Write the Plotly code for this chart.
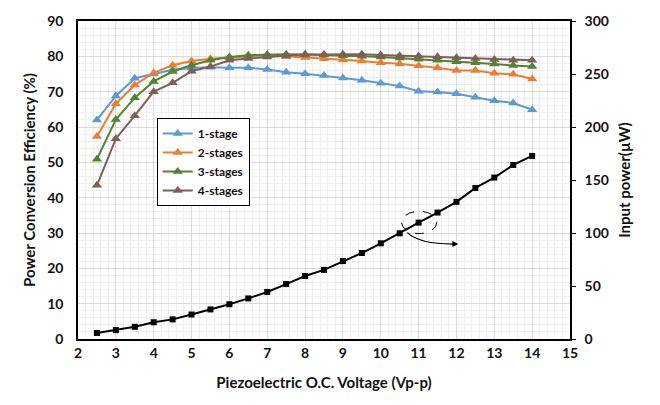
import plotly.graph_objects as go

voltage = [2.5, 3, 3.5, 4, 4.5, 5, 5.5, 6, 6.5, 7, 7.5, 8, 8.5, 9,
           9.5, 10, 10.5, 11, 11.5, 12, 12.5, 13, 13.5, 14]

eff_1stage = [62.0, 68.8, 73.8, 75.0, 76.2, 76.7, 76.9, 76.8, 76.8, 76.3, 75.5, 75.1, 74.6, 73.9,
              73.2, 72.4, 71.6, 70.1, 69.9, 69.4, 68.4, 67.4, 66.8, 64.9]
eff_2stages = [57.3, 66.6, 71.9, 75.3, 77.5, 78.7, 79.3, 79.7, 80.0, 80.3, 80.0, 79.7, 79.3, 79.0,
               78.7, 78.2, 77.9, 77.3, 76.8, 76.0, 76.0, 75.2, 74.9, 73.6]
eff_3stages = [50.9, 62.1, 68.3, 72.9, 75.7, 77.5, 78.9, 79.8, 80.3, 80.5, 80.6, 80.5, 80.4, 80.2,
               80.0, 79.8, 79.5, 79.2, 78.9, 78.5, 78.2, 77.8, 77.4, 77.1]
eff_4stages = [43.5, 56.7, 63.2, 70.0, 72.5, 75.8, 77.1, 78.9, 79.4, 79.8, 80.0, 80.5, 80.5, 80.6,
               80.6, 80.4, 80.2, 80.1, 79.9, 79.6, 79.4, 79.1, 78.9, 78.9]
input_power = [5.7, 8.4, 11.5, 15.8, 18.5, 23.1, 27.9, 32.8, 38.3, 44.4, 51.8, 59.4, 65.2, 73.5,
               81.1, 90.3, 99.7, 109.8, 119.3, 129.4, 142.5, 152.3, 164.2, 172.7]

series_names = ["1-stage", "2-stages", "3-stages", "4-stages"]
series_colors = ["#5b9bd5", "#ed7d31", "#548235", "#7f5f55"]

FONT = "Lato"

fig = go.Figure()
for name, vals, col in zip(series_names, [eff_1stage, eff_2stages, eff_3stages, eff_4stages], series_colors):
    fig.add_trace(go.Scatter(
        x=voltage, y=vals, name=name, mode="lines+markers",
        line=dict(color=col, width=2),
        marker=dict(symbol="triangle-up", size=9, color=col),
    ))

fig.add_trace(go.Scatter(
    x=voltage, y=input_power, yaxis="y2", mode="lines+markers", showlegend=False,
    line=dict(color="black", width=2),
    marker=dict(symbol="square", size=6, color="black"),
))

# annotation: dashed ellipse and curved arrow
fig.add_shape(type="circle", xref="x", yref="y2", x0=10.55, x1=11.48, y0=99.5, y1=120.5,
              line=dict(color="black", width=1, dash="dash"))
fig.add_shape(type="path", xref="x", yref="y2",
              path="M 10.70,100.3 Q 11.04,89.0 12.0,89.6",
              line=dict(color="black", width=1.2))
fig.add_annotation(x=12.05, y=89.6, xref="x", yref="y2", ax=-8, ay=0, text="",
                   showarrow=True, arrowhead=2, arrowsize=1, arrowwidth=1.2, arrowcolor="black")

tickfont = dict(family=FONT, size=14, color="#111", weight="bold")
titlefont = dict(family=FONT, size=15, color="#111", weight="bold")

fig.update_layout(
    width=660, height=405,
    margin=dict(l=78, r=90, t=12, b=66),
    paper_bgcolor="white", plot_bgcolor="white",
    font=dict(family=FONT),
    showlegend=True,
    legend=dict(x=0.16, y=0.695, xanchor="left", yanchor="top",
                bgcolor="white", bordercolor="black", borderwidth=1,
                font=dict(family=FONT, size=12, color="#111", weight="bold"),
                tracegroupgap=0, itemwidth=30),
    xaxis=dict(range=[2, 15], dtick=1, tick0=2,
               showgrid=True, gridcolor="#d9d9d9", gridwidth=1,
               minor=dict(dtick=0.2, showgrid=True, gridcolor="#efefef", gridwidth=1),
               showline=True, linecolor="black", linewidth=1.5, mirror=True,
               ticks="", zeroline=False, tickfont=tickfont,
               title=dict(text="Piezoelectric O.C. Voltage (Vp-p)", font=titlefont, standoff=18)),
    yaxis=dict(range=[0, 90], dtick=10,
               showgrid=True, gridcolor="#d9d9d9", gridwidth=1,
               minor=dict(dtick=2, showgrid=True, gridcolor="#efefef", gridwidth=1),
               showline=True, linecolor="black", linewidth=1.5, mirror=True,
               ticks="", zeroline=False, tickfont=tickfont, ticklabelstandoff=10,
               title=dict(text="Power Conversion Efficiency (%)", font=titlefont, standoff=8)),
    yaxis2=dict(range=[0, 300], dtick=50, overlaying="y", side="right",
                showgrid=False, zeroline=False,
                showline=True, linecolor="black", linewidth=1.5,
                ticks="outside", ticklen=4, tickcolor="black",
                tickfont=tickfont, ticklabelstandoff=6,
                title=dict(text="Input power(µW)", font=titlefont, standoff=12)),
)

fig.write_html("out.html")
